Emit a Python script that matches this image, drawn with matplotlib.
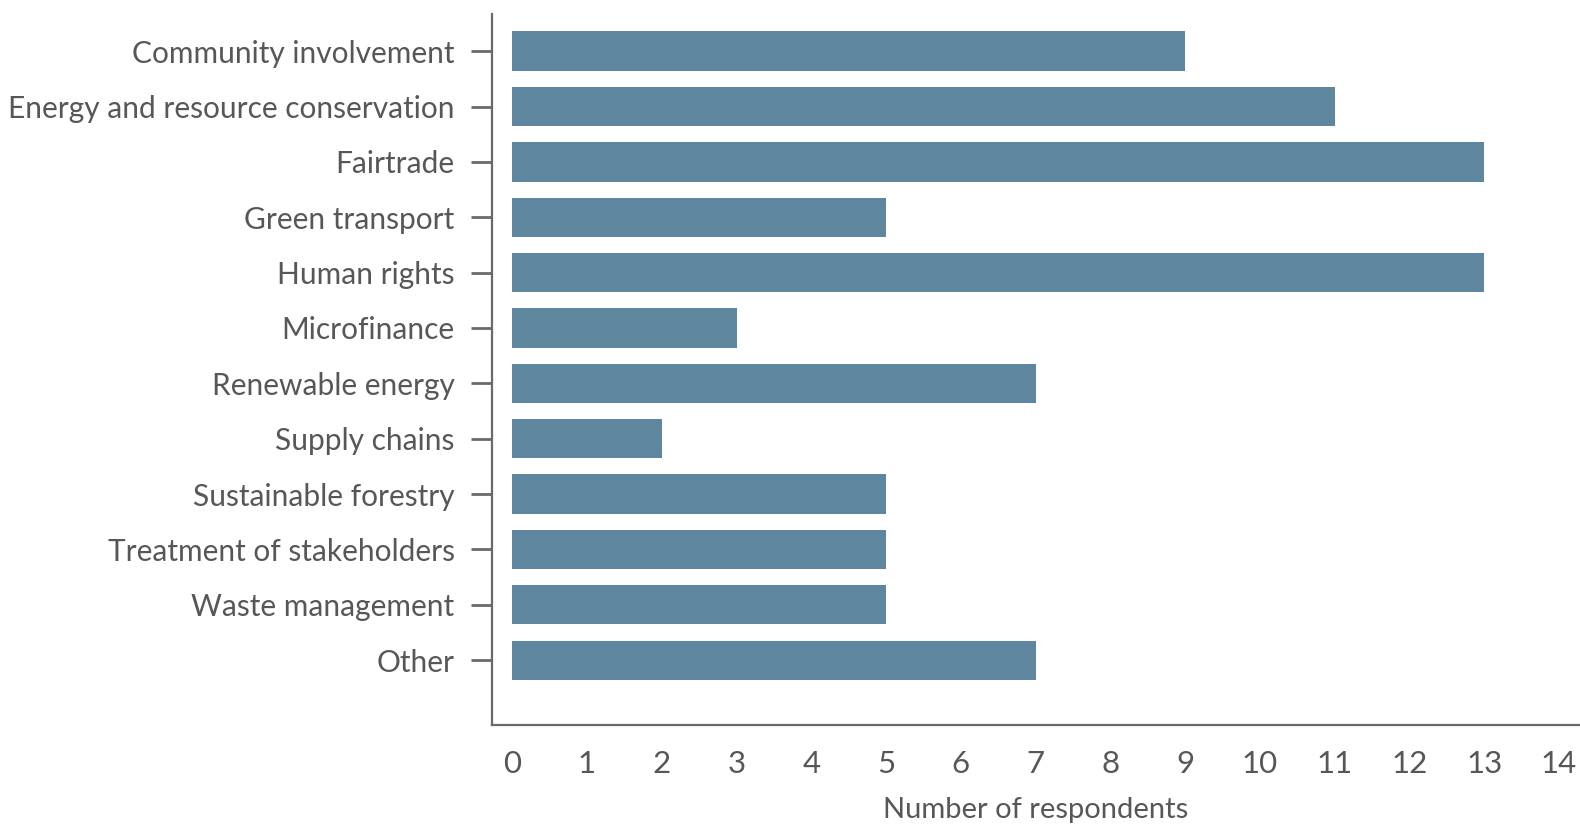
import matplotlib
matplotlib.use("Agg")
import matplotlib.pyplot as plt
import numpy as np

# ── Datos ────────────────────────────────────────────────────────────────────
categorias = [
    "Community involvement",
    "Energy and resource conservation",
    "Fairtrade",
    "Green transport",
    "Human rights",
    "Microfinance",
    "Renewable energy",
    "Supply chains",
    "Sustainable forestry",
    "Treatment of stakeholders",
    "Waste management",
    "Other",
]
respondentes = [9, 11, 13, 5, 13, 3, 7, 2, 5, 5, 5, 7]
ticks_x = list(range(0, 15))

COLOR_BARRA = "#5E879F"
COLOR_TEXTO = "#575757"
COLOR_EJE = "#6A6A6A"

plt.rcParams["font.family"] = ["Lato", "DejaVu Sans"]

fig = plt.figure(figsize=(15.8, 8.26), dpi=100)
ax = fig.add_axes([0.3114, 0.1223, 0.6886, 0.8607])

y = np.arange(len(categorias))
ax.barh(y, respondentes, height=0.71, color=COLOR_BARRA)

ax.set_ylim(12.17, -0.67)
ax.set_xlim(-0.27, 14.28)
ax.set_yticks(y)
ax.set_yticklabels(categorias)
ax.set_xticks(ticks_x)

ax.tick_params(axis="y", length=15, width=2, color=COLOR_EJE, pad=12,
               labelsize=21.5, labelcolor=COLOR_TEXTO)
ax.tick_params(axis="x", length=0, pad=18, labelsize=22.5, labelcolor=COLOR_TEXTO)

for lado in ["top", "right"]:
    ax.spines[lado].set_visible(False)
for lado in ["left", "bottom"]:
    ax.spines[lado].set_color(COLOR_EJE)
    ax.spines[lado].set_linewidth(1.6)

ax.set_xlabel("Number of respondents", fontsize=21, color=COLOR_TEXTO, labelpad=14)

fig.savefig("out.png", dpi=100)
